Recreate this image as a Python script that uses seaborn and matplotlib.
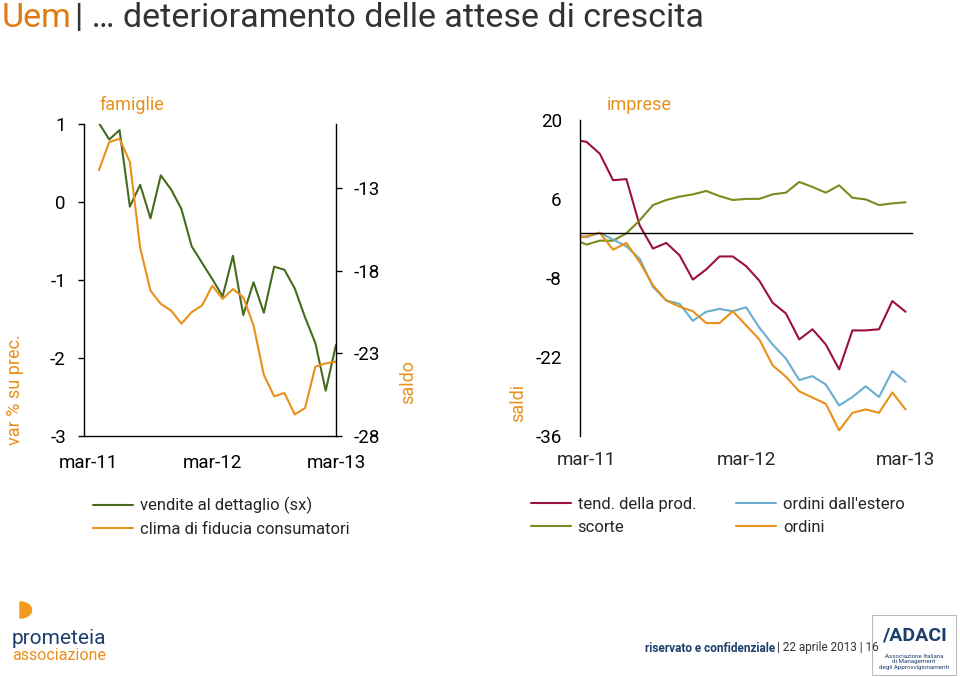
import matplotlib
matplotlib.use('Agg')
import matplotlib.pyplot as plt
import matplotlib.transforms as mtransforms
from matplotlib.patches import Wedge, Rectangle
import seaborn as sns
import pandas as pd

# dati letti dal grafico
# famiglie: apr-11 .. mar-13
mesi_fam = pd.period_range('2011-04', '2013-03', freq='M')
vendite = [1.01, 0.80, 0.92, -0.06, 0.22, -0.21, 0.34, 0.16, -0.09, -0.57, -0.78, -0.99,
           -1.21, -0.69, -1.45, -1.03, -1.42, -0.83, -0.87, -1.11, -1.48, -1.81, -2.42, -1.83]
clima = [-11.9, -10.2, -10.0, -11.4, -16.6, -19.2, -20.0, -20.4, -21.2, -20.5, -20.1, -18.9,
         -19.7, -19.1, -19.6, -21.3, -24.3, -25.6, -25.4, -26.7, -26.3, -23.8, -23.6, -23.5]

# imprese: feb-11 .. mar-13
mesi_imp = pd.period_range('2011-02', '2013-03', freq='M')
tend_prod = [16.5, 16.1, 14.0, 9.3, 9.5, 1.3, -2.8, -1.8, -4.0, -8.3, -6.5, -4.2, -4.2,
             -5.9, -8.5, -12.4, -14.3, -18.9, -17.1, -19.8, -24.2, -17.3, -17.3, -17.1, -12.1, -14.0]
scorte = [-1.1, -2.1, -1.4, -1.4, -0.1, 2.2, 4.9, 5.8, 6.4, 6.8, 7.4, 6.5, 5.8,
          6.0, 6.0, 6.8, 7.1, 9.0, 8.1, 7.1, 8.4, 6.2, 5.9, 4.9, 5.2, 5.4]
estero = [-0.35, -0.8, 0.0, -1.2, -2.4, -4.6, -9.6, -12.0, -12.6, -15.6, -14.0, -13.5, -13.9,
          -13.2, -16.8, -19.8, -22.3, -26.1, -25.4, -26.9, -30.6, -29.1, -27.2, -29.1, -24.5, -26.4]
ordini = [-1.05, -0.6, 0.0, -3.0, -1.8, -5.2, -9.3, -12.0, -13.1, -13.9, -16.0, -16.0, -13.9,
          -16.4, -18.9, -23.5, -25.5, -28.1, -29.2, -30.3, -35.0, -31.9, -31.3, -31.9, -28.3, -31.3]

etichette_x = ['mar-11', 'mar-12', 'mar-13']

base = pd.Period('2011-03', freq='M')
fam = pd.DataFrame({'mese': mesi_fam, 'vendite': vendite, 'clima': clima})
fam['x'] = [(m - base).n for m in fam['mese']]
imp = pd.DataFrame({'mese': mesi_imp, 'tend': tend_prod, 'scorte': scorte,
                    'estero': estero, 'ordini': ordini})
imp['x'] = [(m - base).n for m in imp['mese']]

sns.set_style('white')
plt.rcParams['font.family'] = ['Roboto', 'DejaVu Sans']
plt.rcParams['axes.unicode_minus'] = False

ARANCIO = '#E8901A'
VERDE = '#476B1E'
ROSSO = '#9B1042'
OLIVA = '#7A8A1E'
AZZURRO = '#6AADCF'
BLU = '#1D3F6E'

fig = plt.figure(figsize=(9.6, 6.77), dpi=100)

# ---- famiglie ----
ax = fig.add_axes([0.0875, 0.356, 0.2625, 0.461])
ax2 = ax.twinx()
sns.lineplot(data=fam, x='x', y='vendite', ax=ax, color=VERDE, lw=1.5,
             label='vendite al dettaglio (sx)', legend=False)
sns.lineplot(data=fam, x='x', y='clima', ax=ax2, color=ARANCIO, lw=1.5,
             label='clima di fiducia consumatori', legend=False)
ax.set_xlim(-0.45, 24)
ax.set_ylim(-3, 1)
ax2.set_ylim(-28, -9.1)
ax.set_yticks([1, 0, -1, -2, -3])
ax.set_yticklabels(['1', '0', '-1', '-2', '-3'])
ax2.set_yticks([-13, -18, -23, -28])
ax.set_xticks([0, 12, 24])
ax.set_xticklabels(etichette_x)
for a in (ax, ax2):
    a.set_xlabel('')
    a.set_ylabel('')
    for s in a.spines.values():
        s.set_color('black')
        s.set_linewidth(1)
    a.spines['top'].set_visible(False)
    a.tick_params(direction='out', length=4, width=1, colors='black', labelsize=13.5, pad=9)
ax.spines['right'].set_visible(False)
ax2.spines['left'].set_visible(False)
ax2.spines['bottom'].set_visible(False)

# ---- imprese ----
bx = fig.add_axes([0.604, 0.356, 0.346, 0.467])
sns.lineplot(data=imp, x='x', y='tend', ax=bx, color=ROSSO, lw=1.5, label='tend. della prod.', legend=False)
sns.lineplot(data=imp, x='x', y='scorte', ax=bx, color=OLIVA, lw=1.5, label='scorte', legend=False)
sns.lineplot(data=imp, x='x', y='estero', ax=bx, color=AZZURRO, lw=1.5, label="ordini dall'estero", legend=False)
sns.lineplot(data=imp, x='x', y='ordini', ax=bx, color=ARANCIO, lw=1.5, label='ordini', legend=False)
bx.set_xlim(-0.5, 24.48)
bx.set_ylim(-36, 20)
bx.set_yticks([20, 6, -8, -22, -36])
bx.set_xticks([11.5, 23.5])
bx.set_xticklabels([])
bx.set_xlabel('')
bx.set_ylabel('')
bx.spines['bottom'].set_position(('data', 0))
bx.spines['top'].set_visible(False)
bx.spines['right'].set_visible(False)
for s in bx.spines.values():
    s.set_color('black')
    s.set_linewidth(1)
bx.tick_params(direction='out', length=4, width=1, colors='black', labelsize=13.5, pad=9)
trans = mtransforms.blended_transform_factory(bx.transData, bx.transAxes)
for pos, lab in zip([0, 12, 24], etichette_x):
    bx.text(pos, -0.075, lab, transform=trans, ha='center', va='center', fontsize=13.5)

# ---- testi ----
fig.text(0.002, 1 - 18 / 677, 'Uem', color='#E07B10', fontsize=24.5, va='center')
fig.text(75 / 960, 1 - 18 / 677, '| … deterioramento delle attese di crescita', color='#333333',
         fontsize=24.5, va='center')
fig.text(100 / 960, 1 - 105 / 677, 'famiglie', color=ARANCIO, fontsize=13, va='center')
fig.text(607 / 960, 1 - 105 / 677, 'imprese', color=ARANCIO, fontsize=13, va='center')
fig.text(15 / 960, 1 - 390 / 677, 'var % su prec.', color=ARANCIO, fontsize=13, rotation=90,
         ha='center', va='center')
fig.text(408 / 960, 1 - 382 / 677, 'saldo', color=ARANCIO, fontsize=13, rotation=90,
         ha='center', va='center')
fig.text(518 / 960, 1 - 403 / 677, 'saldi', color=ARANCIO, fontsize=13, rotation=90,
         ha='center', va='center')

# ---- legende ----
h1, l1 = ax.get_legend_handles_labels()
h2, l2 = ax2.get_legend_handles_labels()
fig.legend(h1 + h2, l1 + l2, loc='upper left', bbox_to_anchor=(78 / 960, 1 - 482 / 677),
           frameon=False, fontsize=12, handlelength=2.4, handletextpad=0.4, labelspacing=0.45)
hb, lb = bx.get_legend_handles_labels()
fig.legend(hb, lb, loc='upper left', bbox_to_anchor=(516 / 960, 1 - 482 / 677), ncol=2,
           frameon=False, fontsize=12, handlelength=2.4, handletextpad=0.4, labelspacing=0.45,
           columnspacing=2.4)

# ---- piè di pagina ----
fig.patches.append(Wedge((20 / 960, 1 - 610 / 677), 0.012, -90, 90, color='#F39A1E',
                         transform=fig.transFigure, figure=fig))
fig.text(12 / 960, 1 - 638 / 677, 'prometeia', color=BLU, fontsize=15, va='center')
fig.text(12 / 960, 1 - 655 / 677, 'associazione', color='#E8901A', fontsize=11.5, va='center')
t1 = fig.text(645 / 960, 1 - 648 / 677, 'riservato e confidenziale', color=BLU, fontsize=8.5,
              fontweight='bold', va='center')
fig.canvas.draw()
bb = t1.get_window_extent()
fig.text(bb.x1 / 960 + 0.002, 1 - 648 / 677, '| 22 aprile 2013 | 16', color='#333333',
         fontsize=8.5, va='center')
fig.patches.append(Rectangle((872 / 960, 1 - 675 / 677), 84 / 960, 60 / 677, fill=False,
                             edgecolor='#BBBBBB', lw=0.8, transform=fig.transFigure, figure=fig))
fig.text(915 / 960, 1 - 636 / 677, '/ADACI', color=BLU, fontsize=14, fontweight='bold',
         ha='center', va='center')
fig.text(914 / 960, 1 - 662 / 677, 'Associazione Italiana\ndi Management\ndegli Approvvigionamenti',
         color=BLU, fontsize=4.5, ha='center', va='center', linespacing=1.1)

fig.savefig('out.png', dpi=100)
